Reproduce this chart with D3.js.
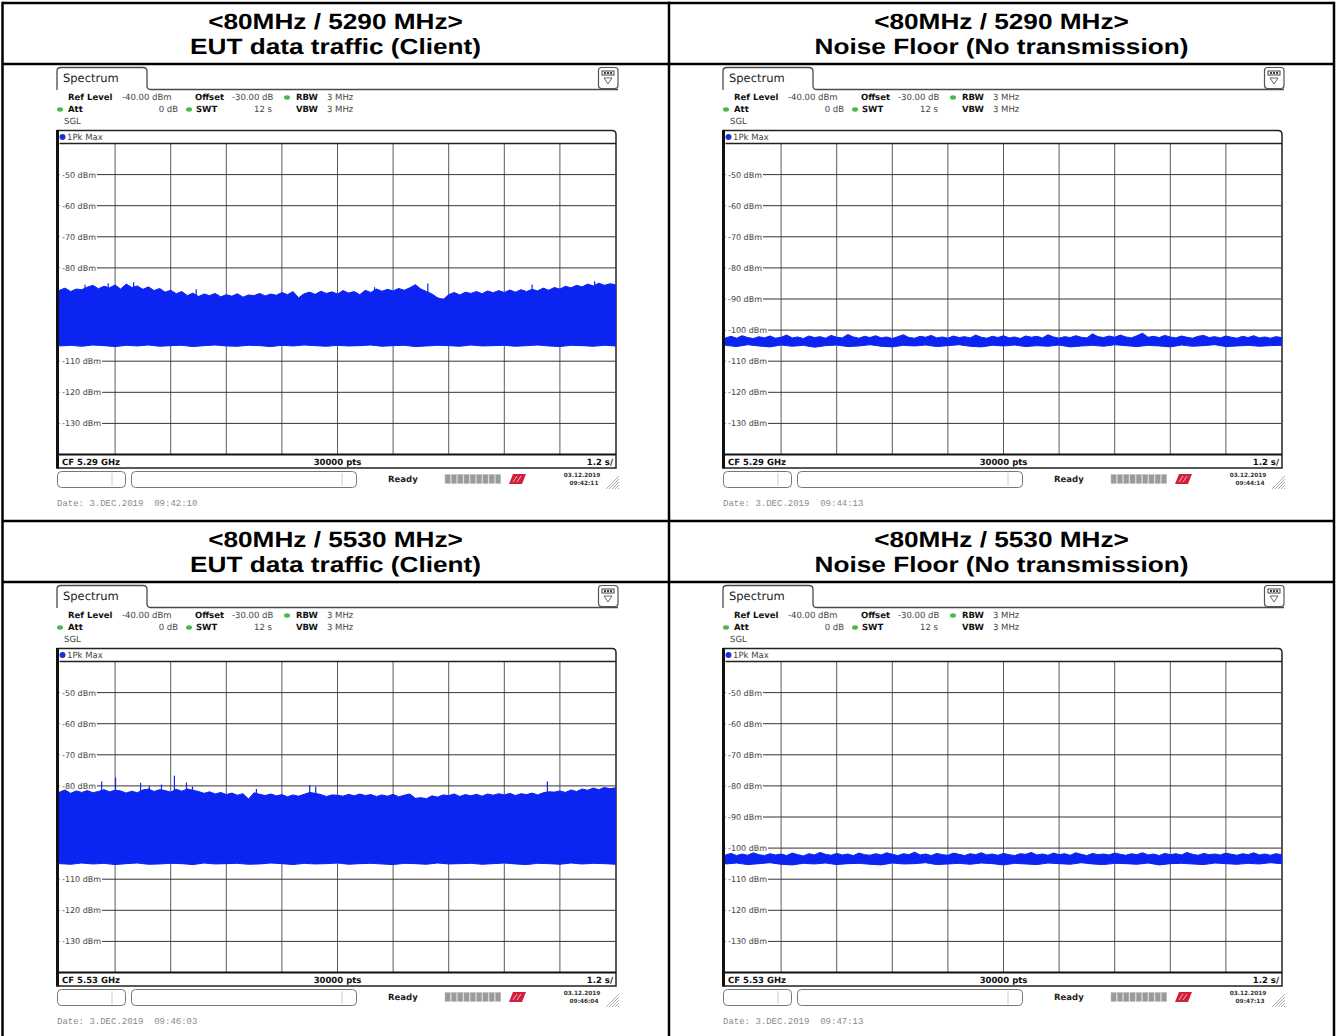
<!DOCTYPE html>
<html>
<head>
<meta charset="utf-8">
<script src="https://cdn.jsdelivr.net/npm/d3@7"></script>
<style>
  html, body { margin: 0; padding: 0; background: #fff; }
  svg { display: block; }
  text { text-rendering: geometricPrecision; }
</style>
</head>
<body>
<div id="chart"></div>
<script>
// ---- data ----
const titleFreq = ["<80MHz / 5290 MHz>", "<80MHz / 5290 MHz>", "<80MHz / 5530 MHz>", "<80MHz / 5530 MHz>"];
const titleMode = ["EUT data traffic (Client)", "Noise Floor (No transmission)", "EUT data traffic (Client)", "Noise Floor (No transmission)"];
const cfLabels = ["CF 5.29 GHz", "CF 5.29 GHz", "CF 5.53 GHz", "CF 5.53 GHz"];
const statusTimes = ["09:42:11", "09:44:14", "09:46:04", "09:47:13"];
const dateStamps = ["09:42:10", "09:44:13", "09:46:03", "09:47:13"];

const dbTicks = [-50, -60, -70, -80, -90, -100, -110, -120, -130];
const timeDivs = [1.2, 2.4, 3.6, 4.8, 6.0, 7.2, 8.4, 9.6, 10.8];

// upper / lower envelope of the max-hold trace (dBm), evenly spread over the 12 s sweep
const tlUpper = [
  -87.2, -86.5, -87.6, -86.8, -87.0, -86.2, -85.6, -86.7, -85.9, -86.4,
  -85.5, -86.8, -85.2, -86.3, -85.8, -86.9, -86.1, -87.3, -86.6, -87.8,
  -87.2, -88.3, -87.6, -88.9, -88.1, -89.2, -88.4, -88.9, -88.2, -89.3,
  -88.6, -89.1, -88.3, -89.4, -88.7, -88.9, -88.2, -89.0, -88.4, -88.8,
  -87.9, -88.6, -87.6, -89.6, -88.3, -87.8, -88.5, -87.5, -88.2, -87.7,
  -88.4, -87.3, -88.1, -87.6, -88.6, -87.2, -87.9, -86.8, -87.5, -86.9,
  -87.4, -86.6, -87.2, -86.4, -85.4, -86.8, -87.6, -88.4, -89.6, -90.2,
  -88.6, -87.9, -88.7, -87.8, -88.2, -87.6, -88.3, -87.4, -88.0, -87.3,
  -87.9, -87.1, -87.8, -87.0, -87.6, -86.9, -87.4, -86.5, -87.2, -86.3,
  -86.8, -85.9, -86.4, -85.6, -86.1, -85.2, -85.8, -84.9, -85.6, -85.1,
  -85.4
];
const tlLower = [
  -105.1, -104.9, -105.2, -104.8, -105.0, -105.3, -104.9, -105.1, -104.8, -105.2,
  -105.0, -104.9, -105.3, -105.0, -104.8, -105.1, -105.2, -104.9, -105.0, -105.3,
  -104.9, -105.1, -104.8, -105.0, -105.2, -104.9, -105.1, -105.0, -104.8, -105.2,
  -105.0, -104.9, -105.3, -105.1, -104.9, -105.0, -105.2, -104.8, -105.1, -105.0,
  -104.9, -105.2, -105.0, -104.8, -105.1, -105.3, -104.9, -105.0, -105.2, -104.9,
  -105.1
];
const tlSpikeT = [0.55, 1.05, 1.60, 2.95, 6.80, 7.95, 10.20, 11.55];
const tlSpikeDb = [-85.4, -84.9, -84.6, -86.9, -86.2, -85.0, -85.3, -84.3];

const trUpper = [
  -102.5, -102.0, -102.6, -101.8, -102.4, -102.7, -102.1, -102.5, -101.9, -102.6,
  -102.3, -101.6, -102.5, -102.2, -102.7, -101.9, -102.4, -102.1, -102.6, -101.7,
  -102.3, -102.5, -101.4, -102.2, -102.6, -102.0, -102.4, -101.8, -102.5, -102.2,
  -102.7, -102.1, -101.5, -102.4, -102.6, -102.0, -102.3, -101.7, -102.5, -102.2,
  -102.6, -101.9, -102.4, -102.1, -102.5, -101.6, -102.3, -102.6, -102.0, -102.4,
  -101.8, -102.5, -102.2, -102.7, -101.9, -102.3, -102.0, -102.5, -101.5, -102.2,
  -102.6, -102.1, -102.4, -101.8, -102.3, -102.5, -101.2, -102.1, -102.4, -101.9,
  -102.3, -101.6, -102.2, -102.5, -101.8, -101.0, -102.3, -102.0, -102.4, -101.7,
  -102.2, -102.5, -101.9, -102.3, -102.6, -102.0, -101.7, -102.4, -102.1, -102.5,
  -101.9, -102.3, -102.6, -102.0, -102.4, -101.8, -102.5, -102.2, -102.6, -102.1,
  -102.4
];
const trLower = [
  -104.9, -105.3, -104.7, -105.1, -105.4, -104.8, -105.2, -104.9, -105.5, -105.0,
  -104.8, -105.3, -105.1, -104.7, -105.2, -105.4, -104.9, -105.1, -104.8, -105.3,
  -105.0, -104.7, -105.2, -105.4, -104.9, -105.1, -104.8, -105.3, -105.0, -105.2,
  -104.8, -105.4, -105.1, -104.9, -105.2, -104.7, -105.0, -105.3, -104.9, -105.1,
  -105.4, -104.8, -105.2, -105.0, -104.7, -105.3, -105.1, -104.9, -105.2, -105.0,
  -104.9
];

const blUpper = [
  -82.0, -81.3, -82.4, -81.6, -82.1, -81.5, -82.2, -81.8, -81.2, -81.9,
  -81.4, -81.6, -82.3, -81.7, -82.2, -81.3, -81.0, -81.8, -81.2, -81.5,
  -82.0, -81.1, -81.7, -81.0, -81.4, -81.8, -82.4, -81.9, -82.6, -82.1,
  -82.8, -82.3, -83.0, -82.5, -84.2, -82.2, -82.7, -83.1, -82.6, -83.2,
  -82.8, -83.5, -82.9, -83.3, -82.7, -82.1, -82.4, -82.8, -83.4, -82.9,
  -83.0, -83.3, -82.7, -83.2, -82.6, -83.1, -82.8, -83.4, -82.9, -83.3,
  -82.7, -83.5, -83.0, -82.6, -84.0, -83.8, -84.1, -83.2, -83.6, -82.9,
  -83.1, -82.6, -83.4, -82.8, -83.2, -82.7, -83.3, -82.6, -83.0, -82.5,
  -82.9, -82.4, -83.1, -82.5, -82.8, -82.3, -82.9, -82.2, -81.9, -82.0,
  -81.6, -82.1, -81.3, -81.8, -81.0, -81.4, -80.7, -81.2, -80.5, -80.9,
  -80.6
];
const blLower = [
  -105.0, -105.2, -104.8, -105.1, -104.9, -105.3, -105.0, -104.8, -105.2, -105.1,
  -104.9, -105.0, -105.3, -104.8, -105.1, -105.0, -104.9, -105.2, -105.1, -104.8,
  -105.0, -105.3, -104.9, -105.1, -105.0, -104.8, -105.2, -105.0, -104.9, -105.1,
  -105.3, -104.9, -105.0, -105.2, -104.8, -105.1, -105.0, -104.9, -105.2, -105.0,
  -104.8, -105.1, -105.3, -104.9, -105.0, -105.2, -104.8, -105.1, -104.9, -105.0,
  -105.2
];
// narrow peaks that stick out of the band: sweep time (s), level (dBm)
const blSpikeT = [0.91, 1.21, 1.75, 1.94, 2.20, 2.48, 2.74, 2.87, 4.25, 5.40, 5.53, 10.53];
const blSpikeDb = [-78.6, -77.3, -79.0, -80.0, -79.6, -76.7, -78.9, -80.2, -81.0, -79.7, -80.3, -78.6];

const brUpper = [
  -102.2, -101.7, -102.4, -101.9, -102.3, -101.5, -102.1, -102.4, -101.8, -102.2,
  -101.9, -102.4, -101.6, -102.1, -102.5, -101.8, -102.2, -101.4, -102.0, -102.3,
  -101.7, -102.2, -101.9, -102.4, -101.6, -102.1, -102.3, -101.8, -102.2, -101.5,
  -102.0, -102.4, -101.8, -102.1, -101.3, -102.2, -101.9, -102.4, -101.7, -102.1,
  -102.3, -101.6, -102.0, -102.4, -101.8, -102.1, -101.5, -102.2, -101.9, -102.3,
  -101.7, -102.1, -102.4, -101.8, -102.0, -101.4, -102.2, -101.9, -102.3, -101.6,
  -102.1, -101.8, -102.3, -101.5, -102.0, -102.4, -101.7, -102.1, -101.9, -102.2,
  -101.6, -102.0, -102.3, -101.8, -102.1, -101.5, -102.2, -101.9, -102.4, -101.7,
  -102.1, -101.8, -102.2, -101.4, -102.0, -102.3, -101.7, -102.1, -101.9, -102.2,
  -101.6, -102.0, -102.3, -101.8, -102.1, -101.5, -102.2, -101.9, -102.3, -101.8,
  -102.1
];
const brLower = [
  -105.1, -104.8, -105.3, -105.0, -104.7, -105.2, -105.4, -104.9, -105.1, -104.8,
  -105.3, -105.0, -104.9, -105.2, -105.4, -104.8, -105.1, -105.0, -104.7, -105.3,
  -105.1, -104.9, -105.2, -104.8, -105.0, -105.4, -104.9, -105.1, -105.3, -104.8,
  -105.0, -105.2, -104.7, -105.1, -105.3, -104.9, -105.0, -105.2, -104.8, -105.4,
  -105.0, -104.9, -105.1, -105.3, -104.8, -105.0, -105.2, -104.9, -105.1, -104.7,
  -105.0
];

const panels = [
  {ox: 0,   oy: 0,   upper: tlUpper, lower: tlLower, spikeT: tlSpikeT, spikeDb: tlSpikeDb},
  {ox: 666, oy: 0,   upper: trUpper, lower: trLower, spikeT: [], spikeDb: []},
  {ox: 0,   oy: 518, upper: blUpper, lower: blLower, spikeT: blSpikeT, spikeDb: blSpikeDb},
  {ox: 666, oy: 518, upper: brUpper, lower: brLower, spikeT: [], spikeDb: []}
];

const W = 1337, H = 1036;
const AF = "'DejaVu Sans', Verdana, sans-serif";
const TRACE = "#0b24f2";
const GREEN = "#4cb84c";

const svg = d3.select("#chart").append("svg")
  .attr("width", W).attr("height", H);
svg.append("rect").attr("width", W).attr("height", H).attr("fill", "#fff");

// table titles (the source document stretches them a bit sideways)
panels.forEach((p, i) => {
  const cx = p.ox === 0 ? 335.5 : 1001.5;
  [[titleFreq[i], 28.5], [titleMode[i], 53.5]].forEach(([s, by]) => {
    svg.append("g").attr("transform", `translate(${cx},${p.oy + by}) scale(1.19,1)`)
      .append("text")
      .attr("text-anchor", "middle")
      .attr("font-family", "'Liberation Sans', Arial, sans-serif")
      .attr("font-weight", "bold").attr("font-size", 22).attr("fill", "#000")
      .text(s);
  });
});

function drawPanel(p, i) {
  const g = svg.append("g").attr("transform", `translate(${p.ox},${p.oy})`);
  const x = d3.scaleLinear().domain([0, 12]).range([59.5, 615.5]);
  const y = d3.scaleLinear().domain([-140, -40]).range([454.5, 143.5]);

  // tab + header line
  g.append("path")
    .attr("d", "M57,90 V71 Q57,67.5 61,67.5 H143 Q147,67.5 147,71.5 V86 Q147,89.5 151,89.5 H618")
    .attr("fill", "none").attr("stroke", "#4a4a4a").attr("stroke-width", 1.3);
  g.append("text").attr("x", 63).attr("y", 82)
    .attr("font-family", AF).attr("font-size", 11.5).attr("fill", "#222").text("Spectrum");

  // icon top right
  g.append("rect").attr("x", 598.5).attr("y", 67.5).attr("width", 19.5).attr("height", 21).attr("rx", 3)
    .attr("fill", "#fff").attr("stroke", "#555").attr("stroke-width", 1.2);
  g.append("rect").attr("x", 602).attr("y", 71).attr("width", 12).attr("height", 4)
    .attr("fill", "#fff").attr("stroke", "#444").attr("stroke-width", 1);
  [604, 607, 610].forEach(xx => g.append("rect").attr("x", xx).attr("y", 72).attr("width", 2).attr("height", 2).attr("fill", "#444"));
  g.append("path").attr("d", "M604,78 H612 L608,84 Z").attr("fill", "#fff").attr("stroke", "#555").attr("stroke-width", 0.9);

  // setting lines
  const info = g.append("g").attr("font-family", AF).attr("font-size", 8.5).attr("fill", "#222");
  const txt = (xx, yy, s, bold, anchor) => info.append("text").attr("x", xx).attr("y", yy)
    .attr("font-weight", bold ? "bold" : "normal").attr("text-anchor", anchor || "start")
    .attr("fill", bold ? "#111" : "#444").text(s);
  const dot = (xx, yy) => info.append("ellipse").attr("cx", xx).attr("cy", yy).attr("rx", 3).attr("ry", 2.2).attr("fill", GREEN);
  txt(68, 100, "Ref Level", true); txt(122, 100, "-40.00 dBm");
  txt(195, 100, "Offset", true); txt(232, 100, "-30.00 dB");
  dot(287, 97.5); txt(296, 100, "RBW", true); txt(327, 100, "3 MHz");
  dot(60, 109.5); txt(68, 112, "Att", true); txt(178, 112, "0 dB", false, "end");
  dot(189, 109.5); txt(196, 112, "SWT", true); txt(272, 112, "12 s", false, "end");
  txt(296, 112, "VBW", true); txt(327, 112, "3 MHz");
  txt(64, 124, "SGL");

  // diagram frame
  g.append("path")
    .attr("d", "M57.5,468 V130.5 H612 Q616,130.5 616,134.5 V468 Z")
    .attr("fill", "#fff").attr("stroke", "#222").attr("stroke-width", 1.5);
  g.append("line").attr("x1", 57.5).attr("x2", 57.5).attr("y1", 130).attr("y2", 468.5)
    .attr("stroke", "#111").attr("stroke-width", 3);

  // grid
  const grid = g.append("g");
  grid.selectAll("line.v").data(timeDivs).join("line")
    .attr("x1", d => x(d)).attr("x2", d => x(d))
    .attr("y1", y(-40)).attr("y2", y(-140))
    .attr("stroke", "#5a5a5a").attr("stroke-width", 1);
  grid.selectAll("line.h").data(dbTicks).join("line")
    .attr("x1", x(0)).attr("x2", x(12))
    .attr("y1", d => y(d)).attr("y2", d => y(d))
    .attr("stroke", "#333").attr("stroke-width", 1);
  grid.append("line").attr("x1", x(0)).attr("x2", 616).attr("y1", y(-40)).attr("y2", y(-40))
    .attr("stroke", "#222").attr("stroke-width", 1.3);
  grid.append("line").attr("x1", 57).attr("x2", 616).attr("y1", y(-140)).attr("y2", y(-140))
    .attr("stroke", "#111").attr("stroke-width", 2);
  const lab = grid.selectAll("g.lab").data(dbTicks).join("g");
  const labRect = lab.append("rect").attr("x", 60).attr("y", d => y(d) - 5)
    .attr("height", 10).attr("fill", "#fff");
  const labText = lab.append("text").attr("x", 62).attr("y", d => y(d) + 3)
    .attr("font-family", AF).attr("font-size", 8).attr("fill", "#444")
    .text(d => d + " dBm");
  labText.each(function (d, k) {
    d3.select(labRect.nodes()[k]).attr("width", this.getComputedTextLength() + 3);
  });

  // trace: max-hold band between upper and lower envelope
  const up = p.upper.map((v, k) => [k * 12 / (p.upper.length - 1), v]);
  const lo = p.lower.map((v, k) => [k * 12 / (p.lower.length - 1), v]).reverse();
  const line = d3.line().x(d => x(d[0])).y(d => y(d[1]));
  g.append("path").attr("d", line(up.concat(lo)) + "Z")
    .attr("fill", TRACE).attr("stroke", TRACE).attr("stroke-width", 1).attr("stroke-linejoin", "miter");
  g.selectAll("line.spk").data(p.spikeT).join("line")
    .attr("x1", d => x(d)).attr("x2", d => x(d))
    .attr("y1", (d, k) => y(p.spikeDb[k])).attr("y2", y(-90))
    .attr("stroke", TRACE).attr("stroke-width", 1.2);

  // header and bottom info row of the diagram (drawn after the frame)
  const info2 = g.append("g").attr("font-family", AF).attr("font-size", 8.5);
  info2.append("circle").attr("cx", 62.5).attr("cy", 137).attr("r", 3).attr("fill", "#1a2fd8");
  info2.append("text").attr("x", 67).attr("y", 140).attr("fill", "#444").text("1Pk Max");
  info2.append("text").attr("x", 62).attr("y", 465).attr("font-weight", "bold").attr("fill", "#111").text(cfLabels[i]);
  info2.append("text").attr("x", 337.5).attr("y", 465).attr("text-anchor", "middle").attr("font-weight", "bold").attr("fill", "#111").text("30000 pts");
  info2.append("text").attr("x", 613).attr("y", 465).attr("text-anchor", "end").attr("font-weight", "bold").attr("fill", "#111").text("1.2 s/");

  // status bar
  const sb = g.append("g");
  sb.append("rect").attr("x", 57.5).attr("y", 471.5).attr("width", 68).attr("height", 16).attr("rx", 4)
    .attr("fill", "#fff").attr("stroke", "#777");
  sb.append("line").attr("x1", 112).attr("x2", 112).attr("y1", 473).attr("y2", 486).attr("stroke", "#ccc");
  sb.append("rect").attr("x", 131.5).attr("y", 471.5).attr("width", 225).attr("height", 16).attr("rx", 4)
    .attr("fill", "#fff").attr("stroke", "#777");
  sb.append("line").attr("x1", 342).attr("x2", 342).attr("y1", 473).attr("y2", 486).attr("stroke", "#ccc");
  sb.append("text").attr("x", 388).attr("y", 482).attr("font-family", AF).attr("font-size", 8.5)
    .attr("font-weight", "bold").attr("fill", "#222").text("Ready");
  d3.range(9).forEach(k => sb.append("rect").attr("x", 445 + k * 6.3).attr("y", 474.5).attr("width", 5.3).attr("height", 9)
    .attr("fill", "#9a9a9a").attr("stroke", "#bdbdbd").attr("stroke-width", 0.5));
  sb.append("path").attr("d", "M509,484 L513,474 H526 L522,484 Z").attr("fill", "#d0203a");
  sb.append("path").attr("d", "M513,482 L517,476 M517,482 L521,476").attr("stroke", "#f3b0b8").attr("stroke-width", 1);
  sb.append("text").attr("x", 582).attr("y", 477).attr("text-anchor", "middle").attr("font-family", AF)
    .attr("font-size", 5.8).attr("font-weight", "bold").attr("fill", "#333").text("03.12.2019");
  sb.append("text").attr("x", 584).attr("y", 484.5).attr("text-anchor", "middle").attr("font-family", AF)
    .attr("font-size", 5.8).attr("font-weight", "bold").attr("fill", "#333").text(statusTimes[i]);
  [0, 3, 6, 9, 12].forEach(k => sb.append("line")
    .attr("x1", 606 + k).attr("y1", 489).attr("x2", 619).attr("y2", 476 + k)
    .attr("stroke", "#999").attr("stroke-width", 0.8));

  // date stamp below the screenshot
  g.append("text").attr("x", 57).attr("y", 506)
    .attr("font-family", "'Liberation Mono', 'DejaVu Sans Mono', monospace").attr("font-size", 9)
    .attr("fill", "#8a8a8a").attr("xml:space", "preserve")
    .text(`Date: 3.DEC.2019  ${dateStamps[i]}`);
}
panels.forEach(drawPanel);

// table rules
const rules = svg.append("g").attr("stroke", "#000").attr("stroke-width", 2.5);
[[2.5, 3, 1334, 3], [2.5, 64, 1334, 64], [2.5, 521, 1334, 521], [2.5, 582, 1334, 582],
 [2.5, 1.8, 2.5, 1036], [669, 1.8, 669, 1036], [1334, 1.8, 1334, 1036]]
  .forEach(r => rules.append("line").attr("x1", r[0]).attr("y1", r[1]).attr("x2", r[2]).attr("y2", r[3]));
</script>
</body>
</html>
